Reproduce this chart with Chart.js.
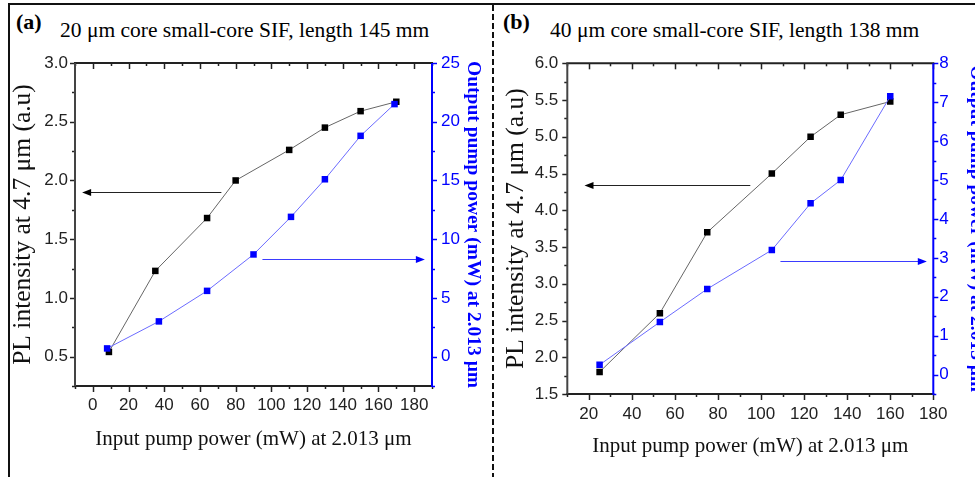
<!DOCTYPE html>
<html>
<head>
<meta charset="utf-8">
<script src="https://cdn.jsdelivr.net/npm/chart.js@4.4.0/dist/chart.umd.min.js"></script>
<style>
  html, body { margin: 0; padding: 0; width: 975px; height: 477px; overflow: hidden; background: #fff; }
  #frame { position: absolute; left: 8px; top: 3px; width: 980px; height: 490px; border-top: 2px solid #111; border-left: 2px solid #111; }
  #divider { position: absolute; left: 492px; top: 5px; width: 2px; height: 472px;
    background: repeating-linear-gradient(to bottom, #111 0 6px, transparent 6px 9px); }
  .tag { position: absolute; font: bold 22px "Liberation Serif"; color: #000; white-space: nowrap; }
  .head { position: absolute; font: 21.5px "Liberation Serif"; color: #000; white-space: nowrap; }
  canvas { position: absolute; top: 0; }
</style>
</head>
<body>
<div id="frame"></div>
<div id="divider"></div>
<div class="tag" style="left:16px;top:8.5px">(a)</div>
<div class="head" style="left:60px;top:18px">20 μm core small-core SIF, length 145 mm</div>
<div class="tag" style="left:503px;top:8.5px">(b)</div>
<div class="head" style="left:550px;top:18px">40 μm core small-core SIF, length 138 mm</div>
<canvas id="chartA" width="493" height="477" style="left:0"></canvas>
<canvas id="chartB" width="500" height="477" style="left:493px"></canvas>
<script>
// panel (a): 20 um core, 145 mm
const pumpA = [9, 35, 64, 80, 110, 130, 150, 170];
const plA = [0.54, 1.23, 1.68, 2.0, 2.26, 2.45, 2.59, 2.67];
const pumpOutA = [8, 37, 64, 90, 111, 130, 150, 169];
const outA = [0.7, 3.0, 5.6, 8.7, 11.9, 15.1, 18.8, 21.5];

// panel (b): 40 um core, 138 mm
const pumpB = [25, 53, 75, 105, 123, 137, 160];
const plB = [1.8, 2.6, 3.7, 4.5, 5.0, 5.3, 5.48];
const outB = [0.25, 1.35, 2.2, 3.2, 4.4, 5.0, 7.15];

// tick labels
const xTicksA = [0, 20, 40, 60, 80, 100, 120, 140, 160, 180];
const plTicksA = [0.5, 1.0, 1.5, 2.0, 2.5, 3.0];
const outTicksA = [0, 5, 10, 15, 20, 25];
const xTicksB = [20, 40, 60, 80, 100, 120, 140, 160, 180];
const plTicksB = [1.5, 2.0, 2.5, 3.0, 3.5, 4.0, 4.5, 5.0, 5.5, 6.0];
const outTicksB = [0, 1, 2, 3, 4, 5, 6, 7, 8];

const BLUE = '#0000ff';
const INK = '#222';

function stepsOf(scale, step) {
  const out = [];
  const n = Math.round((scale.max - scale.min) / step);
  for (let k = 0; k <= n; k++) out.push(scale.min + k * step);
  return out;
}
const isMajor = (v, list) => list.some(t => Math.abs(t - v) < 1e-6);

// box frame, major/minor ticks and the two arrows
const axisFrame = {
  id: 'axisFrame',
  beforeDatasetsDraw(chart, args, o) {
    const { ctx, chartArea: { left, right, top, bottom }, scales: { x, y, y1 } } = chart;
    ctx.save();
    const seg = (x1, y1_, x2, y2, c, w) => {
      ctx.strokeStyle = c; ctx.lineWidth = w;
      ctx.beginPath(); ctx.moveTo(x1, y1_); ctx.lineTo(x2, y2); ctx.stroke();
    };
    stepsOf(x, o.xMinor).forEach(v => {
      const p = Math.round(x.getPixelForValue(v)) + 0.5;
      const len = isMajor(v, o.xTicks) ? 6 : 3;
      seg(p, bottom, p, bottom + len, INK, 1.5);
      seg(p, top, p, top + len, INK, 1.5);
    });
    stepsOf(y, o.yMinor).forEach(v => {
      const p = Math.round(y.getPixelForValue(v)) + 0.5;
      const len = isMajor(v, o.yTicks) ? 5 : 3;
      seg(left - len, p, left, p, INK, 1.5);
    });
    stepsOf(y1, o.y1Minor).forEach(v => {
      const p = Math.round(y1.getPixelForValue(v)) + 0.5;
      const len = isMajor(v, o.y1Ticks) ? 5 : 3;
      seg(right, p, right + len, p, BLUE, 1.5);
    });
    seg(left - 1, top, right + 1, top, INK, 2);
    seg(left - 1, bottom, right + 1, bottom, INK, 2);
    seg(left, top, left, bottom, '#444', 2);
    seg(right, top, right, bottom + 1, BLUE, 2);
    ctx.restore();
  },
  afterDatasetsDraw(chart, args, o) {
    const { ctx, scales } = chart;
    ctx.save();
    o.arrows.forEach(a => {
      const py = Math.round(scales[a.axis].getPixelForValue(a.y)) + 0.5;
      const p0 = scales.x.getPixelForValue(a.from);
      const p1 = scales.x.getPixelForValue(a.to);
      const dir = Math.sign(p1 - p0);
      ctx.strokeStyle = a.line; ctx.fillStyle = a.head; ctx.lineWidth = 1.2;
      ctx.beginPath(); ctx.moveTo(p0, py); ctx.lineTo(p1 - dir * 6, py); ctx.stroke();
      ctx.beginPath();
      ctx.moveTo(p1, py);
      ctx.lineTo(p1 - dir * 9, py - 3.5);
      ctx.lineTo(p1 - dir * 9, py + 3.5);
      ctx.closePath(); ctx.fill();
    });
    ctx.restore();
  }
};

function makePanel(id, c) {
  const tickFont = { family: 'Liberation Sans', size: 17 };
  return new Chart(document.getElementById(id), {
    type: 'scatter',
    data: {
      datasets: [
        {
          data: c.pump.map((v, i) => ({ x: v, y: c.pl[i] })),
          yAxisID: 'y', showLine: true, borderColor: '#666', borderWidth: 1,
          pointStyle: 'rect', pointRadius: 4.6, pointBorderWidth: 0,
          pointBackgroundColor: '#000', order: 2
        },
        {
          data: c.pumpOut.map((v, i) => ({ x: v, y: c.out[i] })),
          yAxisID: 'y1', showLine: true, borderColor: '#6b6bff', borderWidth: 1,
          pointStyle: 'rect', pointRadius: 4.6, pointBorderWidth: 0,
          pointBackgroundColor: BLUE, order: 1
        }
      ]
    },
    options: {
      responsive: false,
      animation: false,
      events: [],
      layout: { padding: { left: 0, right: 0, top: c.top, bottom: 0 } },
      plugins: {
        legend: { display: false },
        tooltip: { enabled: false },
        axisFrame: {
          xTicks: c.xTicks, yTicks: c.plTicks, y1Ticks: c.outTicks,
          xMinor: 10, yMinor: c.yMinor, y1Minor: c.y1Minor, arrows: c.arrows
        }
      },
      scales: {
        x: {
          type: 'linear', position: 'bottom', min: c.xMin, max: c.xMax,
          afterBuildTicks: s => { s.ticks = c.xTicks.map(v => ({ value: v })); },
          afterFit: s => { s.height = c.bottomH; },
          grid: { display: false, drawTicks: false }, border: { display: false },
          ticks: { autoSkip: false, maxRotation: 0, padding: c.xPad, color: INK, font: tickFont,
                   callback: v => String(v) },
          title: { display: true, text: 'Input pump power (mW) at 2.013 μm', color: '#111',
                   font: { family: 'Liberation Serif', size: 21 }, padding: { top: 0, bottom: c.xTitlePad } }
        },
        y: {
          type: 'linear', position: 'left', min: c.yMin, max: c.yMax,
          afterBuildTicks: s => { s.ticks = c.plTicks.map(v => ({ value: v })); },
          afterFit: s => { s.width = c.leftW; },
          grid: { display: false, drawTicks: false }, border: { display: false },
          ticks: { autoSkip: false, padding: c.yPad, color: INK, font: tickFont,
                   callback: v => v.toFixed(1) },
          title: { display: true, text: 'PL intensity at 4.7 μm (a.u)', color: '#111',
                   font: { family: 'Liberation Serif', size: 25.5 }, padding: { top: c.yTitlePad, bottom: 0 } }
        },
        y1: {
          type: 'linear', position: 'right', min: c.y1Min, max: c.y1Max,
          afterBuildTicks: s => { s.ticks = c.outTicks.map(v => ({ value: v })); },
          afterFit: s => { s.width = c.rightW; },
          grid: { display: false, drawTicks: false }, border: { display: false },
          ticks: { autoSkip: false, padding: c.y1Pad, color: BLUE, font: tickFont,
                   callback: v => String(v) },
          title: { display: true, text: 'Output pump power (mW) at 2.013 μm', color: BLUE,
                   font: { family: 'Liberation Serif', size: 19.5, weight: 'bold' },
                   padding: { top: c.y1TitlePad, bottom: 0 } }
        }
      }
    },
    plugins: [axisFrame]
  });
}

makePanel('chartA', {
  pump: pumpA, pl: plA, pumpOut: pumpOutA, out: outA,
  xTicks: xTicksA, plTicks: plTicksA, outTicks: outTicksA,
  xMin: -10, xMax: 190, yMin: 0.25, yMax: 3.0, y1Min: -2.5, y1Max: 25,
  yMinor: 0.25, y1Minor: 2.5,
  top: 63, leftW: 75, rightW: 61, bottomH: 91,
  xPad: 9, yPad: 7, y1Pad: 9, xTitlePad: 25, yTitlePad: 7.7, y1TitlePad: 8.3,
  arrows: [
    { axis: 'y', y: 1.90, from: 72, to: -6, line: '#222', head: '#000' },
    { axis: 'y1', y: 8.3, from: 95, to: 186, line: '#3b3bff', head: BLUE }
  ]
});

makePanel('chartB', {
  pump: pumpB, pl: plB, pumpOut: pumpB, out: outB,
  xTicks: xTicksB, plTicks: plTicksB, outTicks: outTicksB,
  xMin: 10, xMax: 180, yMin: 1.5, yMax: 6.0, y1Min: -0.5, y1Max: 8,
  yMinor: 0.25, y1Minor: 0.5,
  top: 63.3, leftW: 74.3, rightW: 59.7, bottomH: 83,
  xPad: 10, yPad: 9, y1Pad: 6, xTitlePad: 18, yTitlePad: 8.4, y1TitlePad: 5,
  arrows: [
    { axis: 'y', y: 4.35, from: 95, to: 18, line: '#222', head: '#000' },
    { axis: 'y1', y: 2.92, from: 109, to: 177, line: '#3b3bff', head: BLUE }
  ]
});
</script>
</body>
</html>
